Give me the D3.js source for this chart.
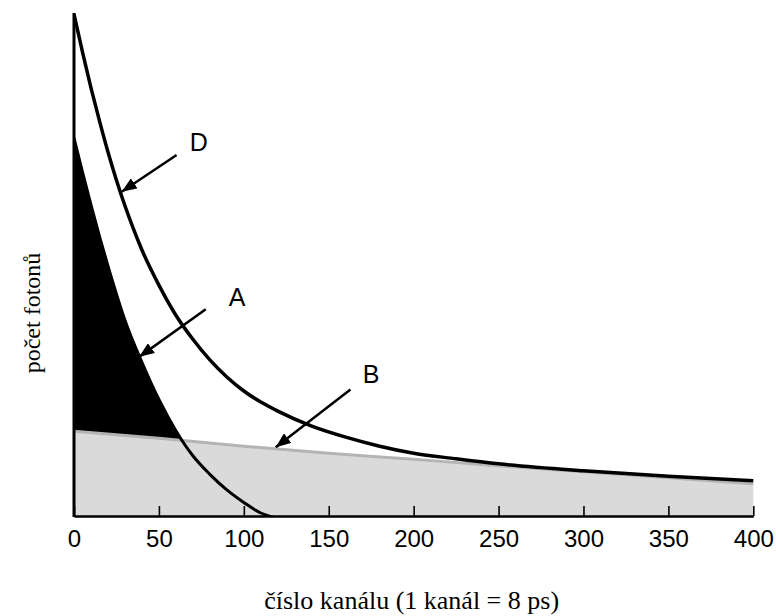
<!DOCTYPE html>
<html>
<head>
<meta charset="utf-8">
<script src="https://cdn.jsdelivr.net/npm/d3@7"></script>
<style>
  body { margin: 0; background: #fff; }
  svg { display: block; }
</style>
</head>
<body>
<svg id="chart"></svg>
<script>
// values (y in arbitrary counts, 0..1000)
const channelsD = [0, 5, 10, 15, 20, 25, 30, 35, 40, 50, 60, 70, 80, 90, 100, 110, 120, 140, 160, 180, 200, 225, 250, 300, 350, 400];
const countsD   = [1000, 924, 853, 787, 725, 669, 618, 572, 530, 460, 400, 352, 311, 277, 249, 227, 209, 179, 157, 139, 125, 114, 104, 90, 79, 70];

const channelsA = [0, 5, 10, 15, 20, 25, 30, 40, 50, 60, 70, 80, 90, 100, 110, 118];
const countsA   = [753, 685, 620, 557, 498, 442, 390, 306, 232, 170, 120, 83, 52, 27, 6, -3];

const channelsB = [0, 50, 100, 150, 200, 250, 300, 350, 400];
const countsB   = [169, 155, 139, 125, 113, 100, 88, 76, 64];

const xTicks = [0, 50, 100, 150, 200, 250, 300, 350, 400];

// annotation letters and arrows (data coords)
const noteText  = ["D", "A", "B"];
const noteX     = [73.5, 96, 175];
const noteY     = [745, 436, 283];
const arrowX0   = [60.4, 77.6, 162.8];
const arrowY0   = [719, 412, 252];
const arrowX1   = [28.1, 38.4, 118.8];
const arrowY1   = [646, 317, 137];

const xTitle = "číslo kanálu (1 kanál = 8 ps)";
const yTitle = "počet fotonů";

const W = 776, H = 616;
const margin = { top: 14, left: 74, right: 23, bottom: 100 };
const width = 679.3;
const height = 502;

const svg = d3.select("#chart").attr("width", W).attr("height", H);

const x = d3.scaleLinear().domain([0, 400]).range([0, width]);
const y = d3.scaleLinear().domain([0, 1000]).range([height, 0]);

const defs = svg.append("defs");
defs.append("clipPath").attr("id", "plotclip")
  .append("rect").attr("x", 0).attr("y", -5).attr("width", width + 1).attr("height", height + 5);

defs.append("marker")
    .attr("id", "arrowhead")
    .attr("markerUnits", "userSpaceOnUse")
    .attr("markerWidth", 16).attr("markerHeight", 12)
    .attr("refX", 15).attr("refY", 6)
    .attr("orient", "auto")
  .append("path")
    .attr("d", "M0,0 L15,6 L0,12 Z")
    .attr("fill", "#000");

const chart = svg.append("g")
  .attr("transform", `translate(${margin.left},${margin.top})`);

const plot = chart.append("g").attr("clip-path", "url(#plotclip)");

const dataA = channelsA.map((c, i) => ({ x: c, y: countsA[i] }));
const dataB = channelsB.map((c, i) => ({ x: c, y: countsB[i] }));
const dataD = channelsD.map((c, i) => ({ x: c, y: countsD[i] }));

const curve = d3.curveMonotoneX;

// black area under A, then grey B area on top of it leaves only the part above B
plot.append("path")
  .datum(dataA)
  .attr("fill", "#000")
  .attr("d", d3.area().curve(curve).x(d => x(d.x)).y0(y(0)).y1(d => y(d.y)));

plot.append("path")
  .datum(dataB)
  .attr("fill", "#dadada")
  .attr("d", d3.area().curve(curve).x(d => x(d.x)).y0(y(0)).y1(d => y(d.y)));

const line = d3.line().curve(curve).x(d => x(d.x)).y(d => y(d.y));

plot.append("path")
  .datum(dataB)
  .attr("fill", "none")
  .attr("stroke", "#b4b4b4")
  .attr("stroke-width", 3)
  .attr("d", line);

plot.append("path")
  .datum(dataA)
  .attr("fill", "none")
  .attr("stroke", "#000")
  .attr("stroke-width", 3)
  .attr("d", line);

plot.append("path")
  .datum(dataD)
  .attr("fill", "none")
  .attr("stroke", "#000")
  .attr("stroke-width", 3.5)
  .attr("d", line);

// x axis, ticks pointing up into the plot
const xAxis = d3.axisBottom(x)
  .tickValues(xTicks)
  .tickSizeInner(-10)
  .tickSizeOuter(0)
  .tickPadding(14);

const xAxisG = chart.append("g")
  .attr("class", "axis x-axis")
  .attr("transform", `translate(0,${height})`)
  .call(xAxis);

xAxisG.select(".domain").attr("stroke", "#000").attr("stroke-width", 2.5);
xAxisG.selectAll(".tick line").attr("stroke", "#000").attr("stroke-width", 1.6);
xAxisG.selectAll(".tick text")
  .attr("fill", "#000")
  .attr("font-family", "'Liberation Sans Narrow', 'Arial Narrow', 'Liberation Sans', sans-serif")
  .attr("font-size", "24px");

// y axis: plain line, no ticks
chart.append("line")
  .attr("x1", 0).attr("x2", 0)
  .attr("y1", y(1000) - 1).attr("y2", height + 1)
  .attr("stroke", "#000")
  .attr("stroke-width", 3);

// arrows + letters
noteText.forEach((t, i) => {
  chart.append("line")
    .attr("x1", x(arrowX0[i])).attr("y1", y(arrowY0[i]))
    .attr("x2", x(arrowX1[i])).attr("y2", y(arrowY1[i]))
    .attr("stroke", "#000")
    .attr("stroke-width", 2.5)
    .attr("marker-end", "url(#arrowhead)");

  chart.append("text")
    .attr("x", x(noteX[i]))
    .attr("y", y(noteY[i]))
    .attr("dy", "0.36em")
    .attr("text-anchor", "middle")
    .attr("font-family", "'Liberation Sans', Arial, sans-serif")
    .attr("font-size", "25px")
    .text(t);
});

// axis titles
svg.append("text")
  .attr("x", margin.left + width / 2 - 2)
  .attr("y", 609)
  .attr("text-anchor", "middle")
  .attr("font-family", "'Liberation Serif', 'Times New Roman', serif")
  .attr("font-size", "26px")
  .text(xTitle);

svg.append("text")
  .attr("transform", "translate(40,313) rotate(-90)")
  .attr("text-anchor", "middle")
  .attr("font-family", "'Liberation Serif', 'Times New Roman', serif")
  .attr("font-size", "24px")
  .text(yTitle);
</script>
</body>
</html>
